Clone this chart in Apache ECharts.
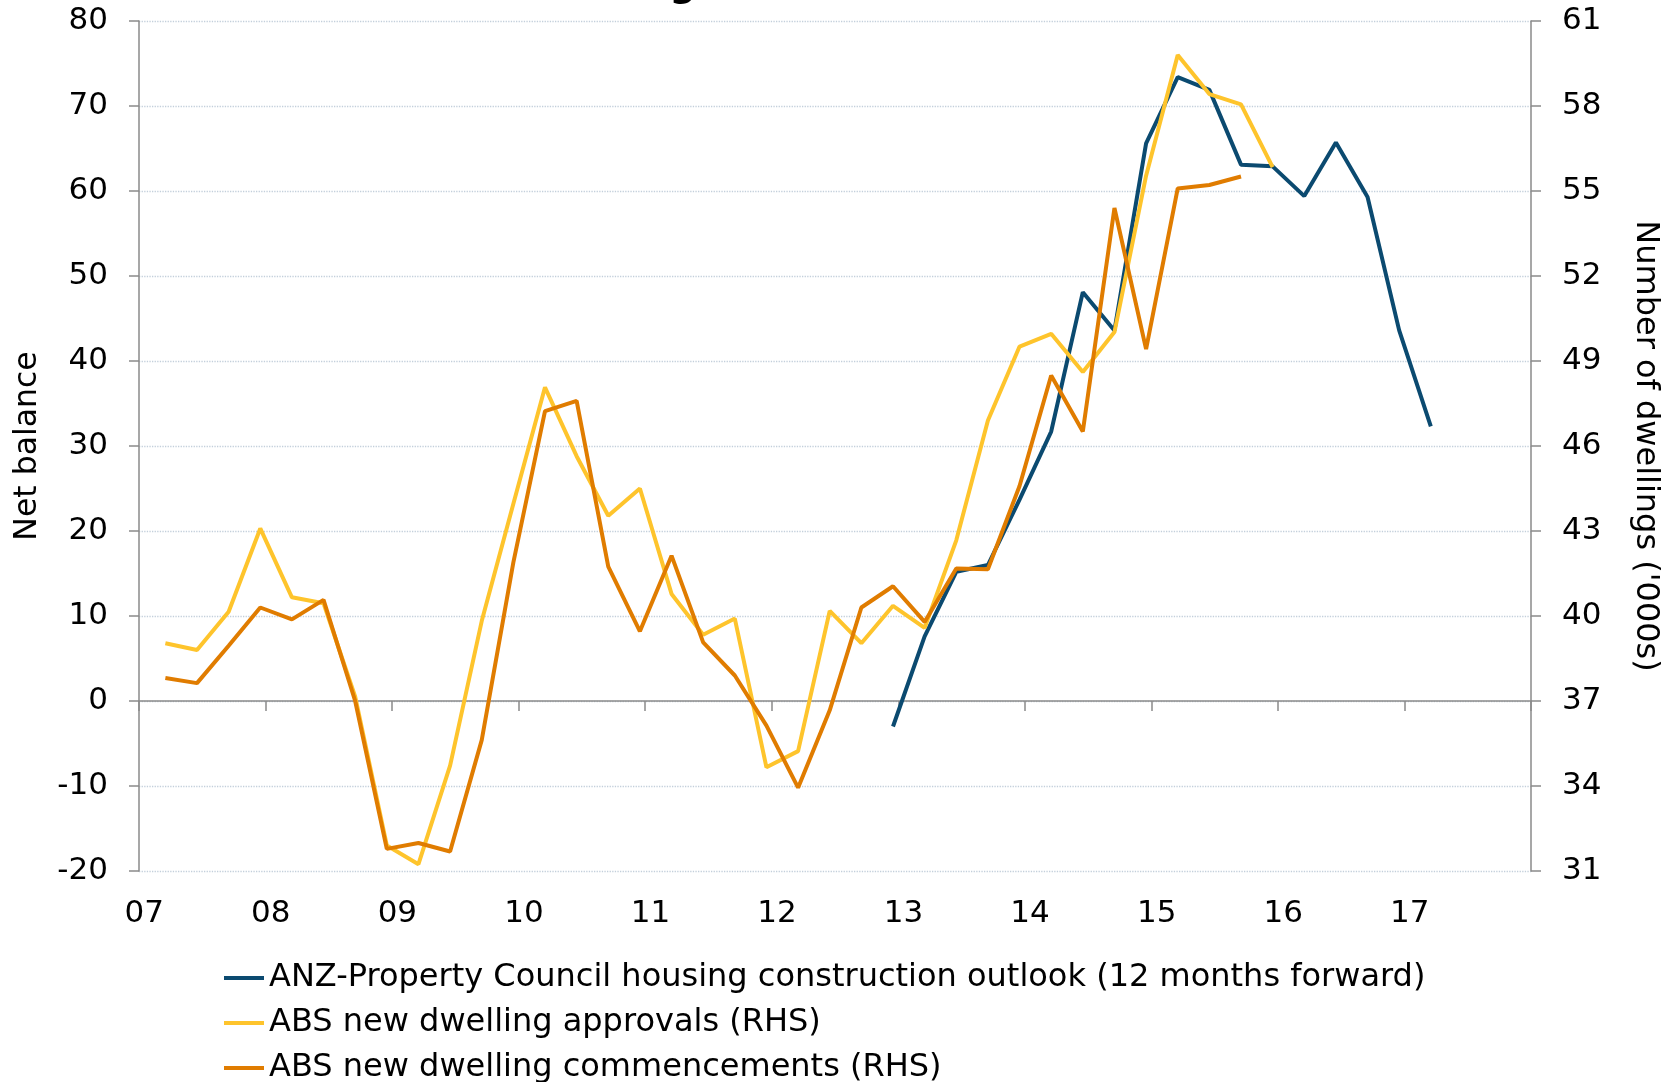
<!DOCTYPE html>
<html>
<head>
<meta charset="utf-8">
<script src="https://cdn.jsdelivr.net/npm/echarts@6/dist/echarts.min.js"></script>
<style>
html,body{margin:0;padding:0;background:#ffffff;}
#chart{width:1676px;height:1082px;}
</style>
</head>
<body>
<div id="chart"></div>
<script>
// ---- data ----
const years = ['07','08','09','10','11','12','13','14','15','16','17'];
const monthNames = ['Jan','Feb','Mar','Apr','May','Jun','Jul','Aug','Sep','Oct','Nov','Dec'];
const quarters = [
  'Mar-07','Jun-07','Sep-07','Dec-07','Mar-08','Jun-08','Sep-08','Dec-08',
  'Mar-09','Jun-09','Sep-09','Dec-09','Mar-10','Jun-10','Sep-10','Dec-10',
  'Mar-11','Jun-11','Sep-11','Dec-11','Mar-12','Jun-12','Sep-12','Dec-12',
  'Mar-13','Jun-13','Sep-13','Dec-13','Mar-14','Jun-14','Sep-14','Dec-14',
  'Mar-15','Jun-15','Sep-15','Dec-15','Mar-16','Jun-16','Sep-16','Dec-16',
  'Mar-17'
];
// Net balance (LHS)
const anzOutlook = [
  null,null,null,null,null,null,null,null,null,null,null,null,
  null,null,null,null,null,null,null,null,null,null,null,
  -3.0, 7.6, 15.2, 16.0, 23.7, 31.7, 48.1, 43.6, 65.6, 73.4, 71.9, 63.1,
  62.9, 59.4, 65.7, 59.3, 43.6, 32.3
];
// Number of dwellings '000s (RHS)
const approvals = [
  39.04, 38.80, 40.15, 43.09, 40.66, 40.45, 37.15, 31.90, 31.24, 34.72, 39.82, 43.96,
  48.07, 45.64, 43.54, 44.50, 40.78, 39.34, 39.91, 34.66, 35.23, 40.18, 39.04, 40.36,
  39.58, 42.67, 46.90, 49.51, 49.96, 48.61, 50.02, 55.54, 59.80, 58.42, 58.06, 55.84,
  null, null, null, null, null
];
const commencements = [
  37.81, 37.63, 38.95, 40.30, 39.88, 40.57, 37.00, 31.78, 31.99, 31.69, 35.62, 41.89,
  47.23, 47.59, 41.74, 39.46, 42.13, 39.07, 37.90, 36.13, 33.94, 36.67, 40.30, 41.05,
  39.79, 41.68, 41.65, 44.59, 48.49, 46.51, 54.40, 49.42, 55.09, 55.21, 55.51,
  null, null, null, null, null, null
];
const rhsTicks = [31, 34, 37, 40, 43, 46, 49, 52, 55, 58, 61];
const seriesNames = [
  'ANZ-Property Council housing construction outlook (12 months forward)',
  'ABS new dwelling approvals (RHS)',
  'ABS new dwelling commencements (RHS)'
];
const seriesColors = ['#0b4a70', '#fec42c', '#e07c00'];

// ---- build ----
const monthCats = [];
years.forEach(y => monthNames.forEach(m => monthCats.push(m + '-' + y)));
function pairs(arr) {
  const out = [];
  arr.forEach((v, i) => { if (v !== null) out.push([quarters[i], v]); });
  return out;
}
const FONT = 'DejaVu Sans';
const AXIS_GREY = '#8a8a8a';

const chart = echarts.init(document.getElementById('chart'), null, {renderer: 'canvas'});
chart.setOption({
  animation: false,
  backgroundColor: '#ffffff',
  textStyle: {fontFamily: FONT},
  title: {
    text: 'Housing',
    right: 975,
    top: -37,
    textStyle: {fontFamily: FONT, fontWeight: 'bold', fontSize: 37, color: '#000'}
  },
  grid: {left: 139, right: 145, top: 21, bottom: 211, containLabel: false},
  legend: {
    orient: 'vertical',
    left: 224,
    top: 962,
    height: 140,
    padding: 0,
    itemWidth: 40,
    itemHeight: 4,
    itemGap: 13,
    icon: 'rect',
    data: seriesNames,
    textStyle: {fontFamily: FONT, fontSize: 32, color: '#000', lineHeight: 31}
  },
  xAxis: [
    {
      type: 'category',
      data: monthCats,
      boundaryGap: true,
      axisLine: {show: true, onZero: true, onZeroAxisIndex: 0, lineStyle: {color: AXIS_GREY, width: 1.5}},
      axisTick: {show: true, length: 10, interval: (i) => i % 12 === 0, lineStyle: {color: AXIS_GREY, width: 1.5}},
      axisLabel: {show: false},
      splitLine: {show: false}
    },
    {
      type: 'category',
      data: monthCats,
      position: 'bottom',
      boundaryGap: true,
      axisLine: {show: false, onZero: false},
      axisTick: {show: false},
      axisLabel: {
        show: true, interval: (i) => i % 12 === 0, margin: 27,
        fontFamily: FONT, fontSize: 31, color: '#000',
        formatter: (v) => v.split('-')[1]
      },
      splitLine: {show: false}
    }
  ],
  yAxis: [
    {
      type: 'value', min: -20, max: 80, interval: 10, position: 'left',
      axisLine: {show: true, lineStyle: {color: AXIS_GREY, width: 1.5}},
      axisTick: {show: true, length: 10, lineStyle: {color: AXIS_GREY, width: 1.5}},
      axisLabel: {fontFamily: FONT, fontSize: 31, color: '#000', margin: 31},
      splitLine: {show: true, lineStyle: {color: '#c3cfdb', type: 'dotted', width: 1.3}},
      name: 'Net balance', nameLocation: 'middle', nameGap: 95,
      nameTextStyle: {fontFamily: FONT, fontSize: 31.5, color: '#000'}
    },
    {
      type: 'value', min: 31, max: 61, position: 'right',
      axisLine: {show: true, lineStyle: {color: AXIS_GREY, width: 1.5}},
      axisTick: {show: true, length: 10, customValues: rhsTicks, lineStyle: {color: AXIS_GREY, width: 1.5}},
      axisLabel: {fontFamily: FONT, fontSize: 31, color: '#000', margin: 31, customValues: rhsTicks},
      splitLine: {show: false},
      name: "Number of dwellings ('000s)", nameLocation: 'middle', nameRotate: -90, nameGap: 98,
      nameTextStyle: {fontFamily: FONT, fontSize: 32, color: '#000'}
    }
  ],
  series: [
    {name: seriesNames[0], type: 'line', xAxisIndex: 0, yAxisIndex: 0, data: pairs(anzOutlook),
     color: seriesColors[0], showSymbol: false, symbol: 'none', lineStyle: {width: 4, color: seriesColors[0]}},
    {name: seriesNames[1], type: 'line', xAxisIndex: 0, yAxisIndex: 1, data: pairs(approvals),
     color: seriesColors[1], showSymbol: false, symbol: 'none', lineStyle: {width: 4, color: seriesColors[1]}},
    {name: seriesNames[2], type: 'line', xAxisIndex: 0, yAxisIndex: 1, data: pairs(commencements),
     color: seriesColors[2], showSymbol: false, symbol: 'none', lineStyle: {width: 4, color: seriesColors[2]}}
  ]
});
</script>
</body>
</html>
